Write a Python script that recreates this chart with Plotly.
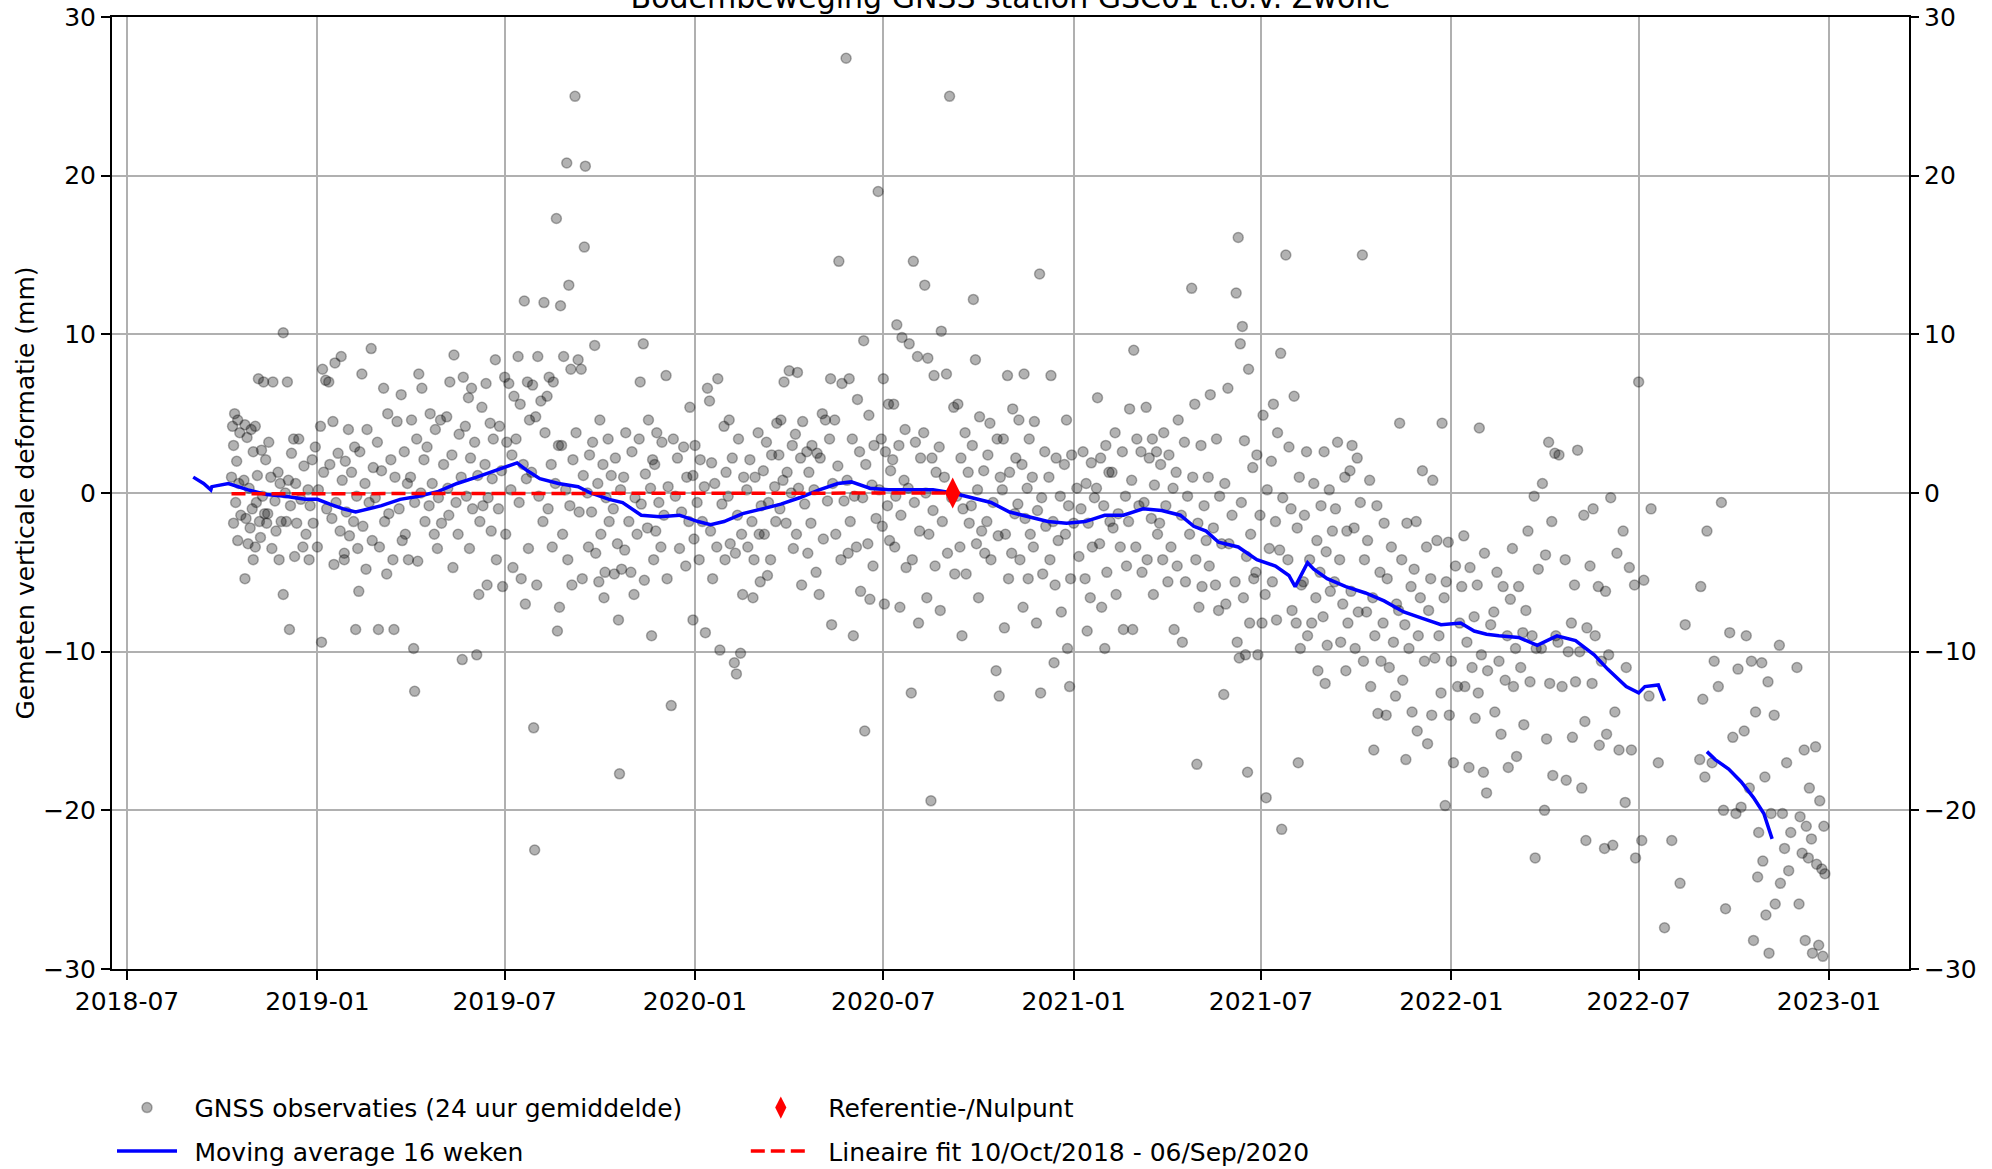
import pandas as pd
import plotly.graph_objects as go

# ---------------- data ----------------
BASE_DATE = "2018-09-01"   # day offsets below are counted from this date

title_text = "Bodembeweging GNSS station GSC01 t.o.v. Zwolle"
y_label = "Gemeten verticale deformatie (mm)"
x_tick_dates = ["2018-07-01", "2019-01-01", "2019-07-01", "2020-01-01", "2020-07-01",
                "2021-01-01", "2021-07-01", "2022-01-01", "2022-07-01", "2023-01-01"]
x_tick_labels = ["2018-07", "2019-01", "2019-07", "2020-01", "2020-07",
                 "2021-01", "2021-07", "2022-01", "2022-07", "2023-01"]
y_ticks = [-30, -20, -10, 0, 10, 20, 30]

# GNSS daily observations (day offset, mm)
obs_days_2018 = [42,45,40,47,41,44,39,46,43,48,41,45,
                 52,58,54,60,51,56,59,53,57,55,60,52,
                 65,70,62,68,72,64,69,63,71,66,73,67,62,
                 79,75,84,77,86,81,74,87,82,78,85,89,
                 89,93,99,97,94,91,96,92,100,95,
                 104,109,101,113,106,115,102,111,108,114]
obs_mm_2018 = [5.0,4.6,4.2,3.8,3.0,2.0,1.0,0.6,-0.6,-1.4,-1.9,-3.0,
               4.3,4.0,3.5,2.6,0.8,0.3,-1.0,-1.6,-2.2,-3.2,-4.2,-5.4,
               7.2,7.0,4.2,2.7,2.1,1.1,-0.2,-0.6,-1.3,-1.8,-1.9,-2.8,-3.4,
               7.0,3.2,1.3,1.0,0.6,-0.5,-1.3,-1.8,-2.4,-3.5,-4.2,-6.4,
               10.1,7.0,3.4,2.5,0.8,0.0,-0.8,-1.8,-4.0,-8.6,
               3.4,1.7,0.6,0.2,-0.4,-0.8,-1.9,-2.6,-3.4,-4.2]

obs_days_2019 = [127,130,125,120,117,128,123,131,118,122,126,
                 145,139,133,137,142,134,146,140,136,144,148,138,
                 152,158,149,155,160,150,157,153,161,148,162,159,
                 174,165,170,163,176,168,172,166,175,169,181,
                 186,190,180,193,184,178,191,187,182,195,189,215,216,
                 203,199,206,197,209,201,207,204,210,196,
                 220,223,213,218,225,212,222,216,226,219,
                 231,241,236,228,244,233,239,230,242,235,238,
                 254,250,247,259,252,261,248,256,249,258,253,262,
                 263,271,268,265,274,270,277,266,272,279,269,278,276,
                 294,285,281,289,292,284,291,287,282,290,295,286,
                 303,307,312,298,305,310,300,309,297,304,311,301,
                 322,316,325,318,327,314,321,324,317,326,319,323,
                 341,335,330,338,333,342,329,336,340,334,331,332,
                 353,357,346,350,344,355,348,352,345,349,356,354,
                 371,363,365,360,367,358,369,362,366,359,364,368,
                 381,380,374,377,372,385,379,383,375,384,378,
                 390,395,388,398,393,401,387,396,391,400,394,399,
                 403,410,406,415,408,404,412,416,409,413,414,
                 434,420,426,418,429,423,431,419,425,428,
                 437,442,433,446,439,444,435,441,447,438,445,
                 459,450,455,448,461,452,457,449,454,460,464,
                 482,466,476,470,479,468,474,481,472,478,485]
obs_mm_2019 = [7.8,7.1,4.2,2.9,2.1,1.3,0.2,-1.0,-1.9,-3.4,-9.4,
               8.6,8.2,7.0,4.5,2.5,1.8,0.8,-0.6,-1.6,-2.4,-3.8,-4.5,
               4.0,2.9,2.0,1.3,-0.2,-1.2,-1.8,-2.7,-3.5,-4.2,-6.2,-8.6,
               9.1,7.5,4.0,2.6,1.6,0.6,-0.6,-2.1,-3.0,-4.8,-8.6,
               6.6,5.0,3.2,2.1,1.4,-0.3,-1.3,-1.8,-3.4,-4.2,-5.1,-9.8,-12.5,
               6.2,4.5,2.6,1.0,0.6,-1.0,-2.6,-3.0,-4.2,-8.6,
               7.5,6.6,4.6,3.4,2.1,1.0,0.0,-0.6,-1.8,-4.3,
               5.0,4.6,4.0,2.9,1.8,0.6,-0.3,-0.8,-1.9,-2.6,-3.5,
               8.7,7.0,4.8,3.7,2.4,1.0,0.3,-0.6,-1.4,-2.6,-4.7,-10.5,
               7.3,6.6,6.0,4.2,3.2,2.2,1.1,-0.2,-1.0,-1.8,-3.5,-6.4,-10.2,
               8.4,6.9,5.4,4.4,3.4,1.8,0.9,-0.3,-0.8,-2.4,-4.2,-5.8,
               7.3,6.9,6.1,4.2,3.2,2.4,1.4,0.2,-1.0,-2.6,-4.7,-5.9,
               12.1,8.6,7.0,5.6,4.6,3.4,1.8,0.9,-0.6,-3.5,-5.4,-7.0,
               12.0,8.6,6.8,5.8,4.8,3.8,1.3,-0.2,-1.8,-5.8,-14.8,-22.5,
               17.3,11.8,7.3,7.0,6.1,3.0,1.8,0.6,-1.0,-3.4,-7.2,-8.7,
               25.0,20.8,13.1,8.6,7.8,3.0,2.1,0.2,-0.8,-2.6,-4.2,-5.8,
               20.6,15.5,8.4,7.8,3.8,2.4,1.1,0.0,-1.2,-3.4,-5.4,
               9.3,4.6,3.2,1.8,0.6,-0.3,-1.2,-2.6,-3.8,-5.0,-5.6,-6.6,
               3.4,2.2,1.1,0.2,-1.0,-1.8,-3.2,-4.8,-5.1,-8.0,-17.7,
               7.0,3.8,2.6,1.0,-0.3,-1.8,-2.6,-3.6,-5.0,-6.4,
               9.4,4.6,3.4,2.1,1.2,0.3,-0.7,-2.2,-4.2,-5.5,-9.0,
               7.4,3.8,3.2,1.8,0.4,-0.6,-1.4,-2.4,-3.4,-5.4,-13.4,
               5.4,3.4,2.9,2.2,1.0,-0.2,-1.2,-1.8,-3.5,-4.6,-8.0]

obs_days_2020 = [499,501,487,492,485,496,489,494,486,491,497,
                 509,515,503,517,506,513,502,508,516,504,511,525,527,
                 520,529,523,534,519,528,532,521,526,533,531,
                 548,540,545,537,551,542,549,538,544,550,543,
                 566,556,561,553,564,558,565,554,560,557,
                 578,573,570,581,568,576,572,580,569,575,582,
                 586,591,584,595,589,597,587,593,585,596,590,
                 610,613,600,605,608,602,615,599,611,604,607,
                 633,626,618,629,622,617,625,620,631,623,628,619,
                 636,644,639,646,634,641,637,643,635,647,640,651,
                 650,655,660,652,658,649,662,654,659,656,
                 664,669,674,667,671,676,665,673,668,675,670,
                 682,687,679,690,684,678,689,681,686,680,691,685,
                 698,694,702,700,705,693,699,704,697,703,696,
                 709,712,718,708,716,720,710,717,713,719,711,715,
                 733,725,730,737,723,728,735,726,731,738,724,
                 756,741,748,744,751,740,746,752,743,749,745,
                 758,762,755,766,760,754,764,759,767,761,
                 772,779,770,782,775,769,780,773,778,781,
                 789,794,785,797,791,784,796,787,793,790,786,
                 805,800,810,803,808,799,806,811,801,809,804,
                 820,815,825,813,822,818,826,814,823,817,821,
                 831,836,829,840,833,838,830,835,841,834,
                 846,851,844,856,848,853,845,858,850,847,849]
obs_mm_2020 = [6.6,5.8,3.0,2.1,1.1,0.4,-0.6,-1.8,-2.9,-4.2,-8.8,
               7.2,4.2,1.9,1.3,0.6,-0.7,-2.4,-3.4,-4.2,-5.4,-9.9,-10.7,-11.4,
               4.6,3.4,2.2,1.0,-0.2,-1.4,-2.6,-3.2,-3.8,-6.4,-10.1,
               3.8,2.1,1.0,0.2,-0.8,-1.8,-2.6,-3.4,-4.2,-5.6,-6.6,
               4.4,3.2,2.4,1.4,0.4,-0.6,-1.8,-2.6,-4.2,-5.2,
               7.7,7.0,4.6,3.0,2.4,1.3,0.8,0.0,-1.0,-1.9,-3.5,
               7.6,4.5,3.7,2.6,2.2,1.3,0.3,-0.7,-2.6,-3.8,-5.8,
               5.0,4.6,3.0,2.5,2.2,0.2,-0.5,-1.9,-2.9,-5.0,-6.4,
               27.4,14.6,7.2,6.9,4.6,3.4,1.7,0.6,-0.5,-2.6,-4.2,-8.3,
               7.2,5.9,3.4,2.6,0.8,-0.2,-1.8,-3.4,-3.8,-6.2,-9.0,-15.0,
               9.6,4.9,3.0,1.8,0.5,-0.3,-1.6,-3.2,-4.6,-6.7,
               19.0,7.2,5.6,3.4,2.6,1.4,0.2,-0.8,-2.1,-3.0,-7.0,
               10.6,9.8,5.6,4.0,3.0,2.1,0.8,-0.2,-1.4,-3.4,-4.7,-7.2,
               14.6,9.4,8.6,3.2,2.2,0.3,-0.6,-2.4,-4.2,-8.2,-12.6,
               13.1,8.5,7.4,3.8,2.2,1.3,0.0,-1.1,-2.6,-4.6,-6.6,-19.4,
               25.0,10.2,7.5,5.4,2.9,1.0,-0.3,-1.8,-3.8,-5.1,-7.4,
               12.2,5.6,3.8,2.2,1.3,-0.2,-1.0,-1.9,-3.4,-5.1,-9.0,
               8.4,4.8,3.0,1.4,0.2,-0.8,-2.4,-3.2,-3.8,-6.6,
               4.4,3.4,2.4,1.0,-0.6,-1.8,-2.7,-4.2,-11.2,-12.8,
               7.4,5.3,3.4,2.2,1.3,0.2,-1.3,-2.6,-3.8,-5.4,-8.5,
               7.5,4.6,3.4,1.8,0.3,-0.7,-1.6,-2.6,-4.2,-5.4,-7.2,
               13.8,4.5,2.6,1.0,-0.3,-1.1,-2.1,-3.4,-5.1,-8.2,-12.6,
               7.4,2.2,1.0,-0.2,-1.8,-3.0,-4.2,-5.8,-7.5,-10.7,
               4.6,2.4,1.8,0.3,-0.8,-1.9,-2.6,-4.0,-5.4,-9.8,-12.2]

obs_days_2021 = [862,870,865,873,860,867,871,864,869,866,
                 876,884,879,887,875,882,888,878,885,880,883,
                 893,900,890,903,896,891,898,904,894,901,
                 911,907,914,918,909,916,906,913,919,910,
                 923,929,933,926,931,921,928,934,924,930,
                 940,945,937,949,942,936,947,939,944,950,
                 967,954,960,952,963,957,965,953,961,958,
                 970,976,968,979,973,981,971,977,974,972,
                 985,991,983,994,988,996,984,990,993,998,
                 1012,1010,1016,1014,1002,999,1006,1003,1009,1000,1011,1013,
                 1022,1018,1026,1015,1024,1020,1027,1017,1023,1019,1021,
                 1036,1030,1040,1033,1042,1029,1038,1035,1031,1039,
                 1058,1053,1046,1050,1044,1055,1048,1052,1045,1049,1054,
                 1066,1061,1071,1063,1069,1060,1073,1064,1068,1072,1070,
                 1078,1085,1076,1088,1081,1075,1087,1083,1079,1089,
                 1095,1100,1092,1103,1097,1091,1101,1094,1098,1096,
                 1108,1115,1106,1117,1110,1105,1113,1118,1111,1116,
                 1132,1122,1127,1120,1130,1124,1134,1121,1128,1125,1133,
                 1139,1146,1137,1149,1142,1136,1144,1150,1140,1147,1143,
                 1153,1160,1156,1165,1152,1162,1158,1164,1155,
                 1168,1175,1170,1179,1167,1173,1177,1171,1180,1174,
                 1190,1184,1194,1182,1188,1196,1186,1192,1185,1195,
                 1209,1200,1204,1198,1211,1206,1202,1208,1199]
obs_mm_2021 = [2.6,1.9,0.6,-0.3,-1.0,-1.9,-3.4,-5.4,-6.6,-8.7,
               6.0,3.0,2.2,1.3,0.3,-0.8,-1.8,-3.2,-5.0,-7.2,-9.8,
               3.8,2.6,1.3,-0.2,-1.3,-2.2,-3.4,-4.6,-6.4,-8.6,
               9.0,5.3,3.4,2.6,0.8,-0.8,-1.8,-3.4,-5.0,-8.6,
               5.4,3.4,2.6,2.2,0.5,-0.6,-1.6,-2.6,-4.2,-6.4,
               3.8,2.4,1.8,0.3,-0.8,-1.9,-3.4,-4.2,-5.6,-8.6,
               12.9,4.6,3.2,1.3,-0.2,-1.4,-2.6,-4.6,-5.6,-9.4,
               5.6,3.0,1.0,-0.8,-1.9,-3.0,-4.2,-5.9,-7.2,-17.1,
               6.2,3.4,1.0,-0.2,-2.2,-3.2,-4.6,-5.8,-7.4,-12.7,
               16.1,12.6,10.5,9.4,6.6,0.6,-1.4,-3.2,-5.6,-7.0,-9.4,-10.4,
               7.8,3.3,1.6,-0.6,-2.6,-4.0,-5.4,-6.6,-8.2,-10.2,-17.6,
               4.9,2.4,0.2,-1.4,-3.5,-5.0,-6.4,-8.2,-10.2,-19.2,
               15.0,8.8,5.6,3.8,2.0,-0.3,-1.8,-3.6,-5.6,-8.0,-21.2,
               6.1,2.9,1.0,-1.0,-2.2,-4.2,-5.8,-7.4,-8.2,-9.8,-17.0,
               2.6,0.6,-1.4,-3.0,-4.2,-5.6,-6.6,-8.2,-9.0,-11.2,
               2.6,0.2,-0.8,-2.4,-3.7,-5.0,-6.2,-7.8,-9.6,-12.0,
               3.2,1.0,-1.0,-2.4,-4.2,-5.6,-7.0,-8.2,-9.4,-11.2,
               15.0,3.0,2.2,1.4,-0.6,-2.2,-4.2,-6.2,-7.5,-9.8,-10.6,
               0.8,-0.8,-3.0,-5.0,-6.6,-7.5,-9.0,-10.6,-12.2,-13.9,-16.2,
               -1.9,-3.4,-5.4,-7.0,-8.2,-9.4,-11.0,-12.8,-14.0,
               4.4,-1.9,-4.2,-5.9,-7.4,-8.3,-9.8,-11.8,-13.8,-16.8,
               1.4,-1.8,-3.4,-4.8,-6.6,-7.4,-9.0,-10.6,-15.0,-15.8,
               4.4,0.8,-3.0,-5.4,-6.6,-9.0,-10.4,-12.6,-14.0]

obs_days_2022 = [1215,1222,1213,1226,1218,1224,1216,1220,1212,
                 1230,1236,1228,1240,1233,1238,1231,1241,1235,
                 1245,1250,1243,1256,1247,1253,1244,1249,1252,
                 1262,1268,1259,1272,1264,1270,1260,1266,1273,
                 1277,1283,1275,1287,1280,1285,1278,1288,1281,
                 1298,1292,1302,1290,1296,1300,1294,1299,
                 1312,1318,1306,1315,1309,1319,1305,1313,1310,1316,1308,
                 1322,1328,1334,1321,1331,1325,1335,1329,
                 1340,1346,1337,1349,1342,1338,1347,1344,1348,
                 1355,1352,1360,1357,1363,1354,1361,
                 1372,1378,1367,1370,1376,1368,1380,1366,1374,
                 1384,1390,1395,1387,1392,1386,1396,
                 1399,1404,1409,1402,
                 1411,1418,1424,1431,1439,1444,1459,1461,1458,1463,1465,1479,1472,1476,1470,1481,1483,
                 1487,1495,1490,1498,1493,
                 1503,1508,1512,1501,1506,1514,1510,1515,
                 1518,1524,1530,1521,1527,1519,1531,1525,1522,
                 1535,1542,1538,1546,1540,1544,1536,
                 1552,1559,1564,1555,1561,1566,1557,1563,1554,1567,1560,
                 1570,1574,1578,1571,1576,1579,1573,1577]
obs_mm_2022 = [-3.1,-4.6,-5.6,-8.2,-10.6,-12.2,-14.0,-17.0,-19.7,
               -2.7,-4.7,-5.9,-7.8,-9.4,-11.0,-12.2,-14.2,-17.3,
               4.1,-3.8,-5.8,-8.3,-10.2,-11.2,-12.6,-17.6,-18.9,
               -5.0,-5.9,-7.5,-9.0,-10.6,-11.8,-13.8,-15.2,-17.3,
               -3.5,-5.9,-6.7,-8.8,-9.8,-11.0,-12.2,-14.6,-16.6,
               -0.2,-2.4,-4.8,-7.4,-9.0,-9.8,-11.9,-23.0,
               3.2,2.5,0.6,-1.8,-3.9,-9.0,-9.8,-12.0,-15.5,-17.8,-20.0,
               2.4,-4.2,-8.2,-9.4,-10.0,-12.2,-15.4,-18.1,
               2.7,-1.4,-5.8,-8.5,-10.0,-11.9,-14.4,-18.6,-21.9,
               -1.0,-4.6,-5.9,-9.0,-10.6,-12.0,-15.9,
               -0.3,-3.8,-6.2,-10.2,-13.8,-15.2,-16.2,-22.4,-22.2,
               -2.4,-4.7,-5.8,-11.0,-16.2,-19.5,-23.0,
               7.0,-5.5,-12.8,-21.9,
               -1.0,-17.0,-27.4,-21.9,-24.6,-8.3,-5.9,-13.0,-16.8,-17.9,-2.4,-0.6,-10.6,-12.2,-17.0,-20.0,-26.2,
               -8.8,-11.1,-15.4,-19.8,-20.2,
               -9.0,-10.6,-13.8,-15.0,-18.6,-24.2,-28.2,-21.4,
               -10.7,-11.9,-14.0,-17.9,-20.2,-23.2,-25.9,-29.0,-26.6,
               -9.6,-17.0,-20.2,-21.4,-22.4,-23.8,-24.6,
               -11.0,-16.2,-18.6,-20.4,-21.0,-21.8,-22.7,-23.0,-25.9,-29.0,-28.2,
               -16.0,-19.4,-21.0,-23.4,-23.7,-24.0,-28.5,-29.2]

# 16-week moving average (two segments, gap in summer 2022)
ma_days_1 = [2,12,19,20,36,55,73,91,110,122,134,147,159,171,184,202,220,239,257,276,294,306,
             315,325,337,355,374,386,404,417,435,453,472,490,502,515,533,552,570,588,607,625,
             638,656,674,699,717,736,754,773,791,809,828,846,864,883,901,920,938,956,969,981,
             993,1012,1030,1048,1061,1067,1079,1085,1098,1116,1135,1153,1172,1190,1208,1227,
             1240,1252,1264,1283,1301,1320,1338,1356,1369,1387,1399,1405,1418,1424]
ma_mm_1 = [1.0,0.6,0.2,0.4,0.6,0.2,-0.1,-0.2,-0.4,-0.4,-0.7,-1.0,-1.2,-1.0,-0.8,-0.4,-0.2,0.1,
           0.6,1.0,1.4,1.7,1.9,1.4,0.9,0.6,0.4,0.0,-0.4,-0.6,-1.4,-1.5,-1.4,-1.8,-2.0,-1.8,
           -1.3,-1.0,-0.7,-0.3,0.2,0.6,0.7,0.3,0.2,0.2,0.2,0.0,-0.3,-0.6,-1.2,-1.5,-1.8,-1.9,
           -1.8,-1.4,-1.4,-1.0,-1.1,-1.4,-2.1,-2.4,-3.1,-3.4,-4.2,-4.6,-5.2,-5.9,-4.4,-4.8,
           -5.4,-5.9,-6.3,-6.8,-7.5,-7.9,-8.3,-8.2,-8.7,-8.9,-9.0,-9.1,-9.6,-9.0,-9.3,-10.2,
           -11.1,-12.2,-12.6,-12.2,-12.1,-13.1]
ma_days_2 = [1465,1473,1486,1498,1510,1520,1528]
ma_mm_2 = [-16.3,-16.8,-17.4,-18.2,-19.2,-20.2,-21.8]

# reference point and linear fit
ref_date = "2020-09-06"
ref_mm = 0.0
fit_dates = ["2018-10-10", "2020-09-06"]
fit_mm = [-0.05, 0.0]

# ---------------- build ----------------
base = pd.Timestamp(BASE_DATE)


def to_dates(days):
    return [base + pd.Timedelta(days=d) for d in days]


obs_days = obs_days_2018 + obs_days_2019 + obs_days_2020 + obs_days_2021 + obs_days_2022
obs_mm = obs_mm_2018 + obs_mm_2019 + obs_mm_2020 + obs_mm_2021 + obs_mm_2022
ma_x = to_dates(ma_days_1) + [None] + to_dates(ma_days_2)
ma_y = ma_mm_1 + [None] + ma_mm_2

FONT = "DejaVu Sans"
SP = "\u2002"   # small gap between legend symbol and text
fig = go.Figure()

fig.add_trace(go.Scatter(
    x=to_dates(obs_days), y=obs_mm, mode="markers",
    name=SP + "GNSS observaties (24 uur gemiddelde)",
    marker=dict(size=10, color="rgba(0,0,0,0.3)",
                line=dict(color="rgba(0,0,0,0.3)", width=1.5)),
    legend="legend", legendgroup="a", legendrank=1))
fig.add_trace(go.Scatter(
    x=ma_x, y=ma_y, mode="lines", name=SP + "Moving average 16 weken",
    line=dict(color="#0000ff", width=3.5), connectgaps=False,
    legend="legend", legendgroup="b", legendrank=2))
fig.add_trace(go.Scatter(
    x=fit_dates, y=fit_mm, mode="lines",
    name=SP + "Lineaire fit 10/Oct/2018 - 06/Sep/2020",
    line=dict(color="#ff0000", width=3.5, dash="14px,6px"),
    legend="legend2", legendgroup="d", legendrank=2))
fig.add_trace(go.Scatter(
    x=[ref_date], y=[ref_mm], mode="markers", name=SP + "Referentie-/Nulpunt",
    marker=dict(symbol="diamond-tall", size=22, color="#ff0000"),
    legend="legend2", legendgroup="c", legendrank=1))
# invisible trace to activate right axis
fig.add_trace(go.Scatter(x=[fit_dates[0]], y=[0], yaxis="y2", mode="markers",
                         marker=dict(opacity=0), showlegend=False, hoverinfo="skip"))

axis_common = dict(ticks="outside", ticklen=9, tickwidth=2, tickcolor="black",
                   zeroline=False, automargin=False,
                   tickfont=dict(family=FONT, size=25, color="black"))

fig.update_layout(
    width=1992, height=1169,
    margin=dict(l=112, r=83, t=17, b=200, autoexpand=False),
    paper_bgcolor="white", plot_bgcolor="white",
    font=dict(family=FONT, size=25, color="black"),
    title=dict(text=title_text, x=0.5, xref="paper", xanchor="center",
               y=1, yref="paper", yanchor="bottom", pad=dict(b=9), automargin=False,
               font=dict(family=FONT, size=30, color="black")),
    xaxis=dict(type="date", range=["2018-06-16 12:00", "2023-03-19 07:00"],
               tickvals=x_tick_dates, ticktext=x_tick_labels,
               showline=True, linecolor="black", linewidth=2, mirror=True,
               showgrid=True, gridcolor="#b0b0b0", gridwidth=2, **axis_common),
    yaxis=dict(range=[-30, 30], tickvals=y_ticks,
               showline=True, linecolor="black", linewidth=2, mirror=True,
               showgrid=True, gridcolor="#b0b0b0", gridwidth=2,
               title=dict(text=y_label, standoff=1,
                          font=dict(family=FONT, size=25, color="black")),
               **axis_common),
    yaxis2=dict(range=[-30, 30], tickvals=y_ticks, overlaying="y", side="right",
                anchor="x", showgrid=False, showline=False, **axis_common),
    legend=dict(x=0.0, xanchor="left", y=0.072, yref="container", yanchor="top",
                orientation="v", bgcolor="rgba(0,0,0,0)", tracegroupgap=8, itemwidth=60,
                traceorder="grouped",
                font=dict(family=FONT, size=25, color="black")),
    legend2=dict(x=0.3527, xanchor="left", y=0.072, yref="container", yanchor="top",
                 orientation="v", bgcolor="rgba(0,0,0,0)", tracegroupgap=8, itemwidth=60,
                 traceorder="grouped",
                 font=dict(family=FONT, size=25, color="black")),
)

fig.write_html("out.html", config={"displayModeBar": False},
               post_script="document.body.style.margin='0';document.body.style.overflow='hidden';")
